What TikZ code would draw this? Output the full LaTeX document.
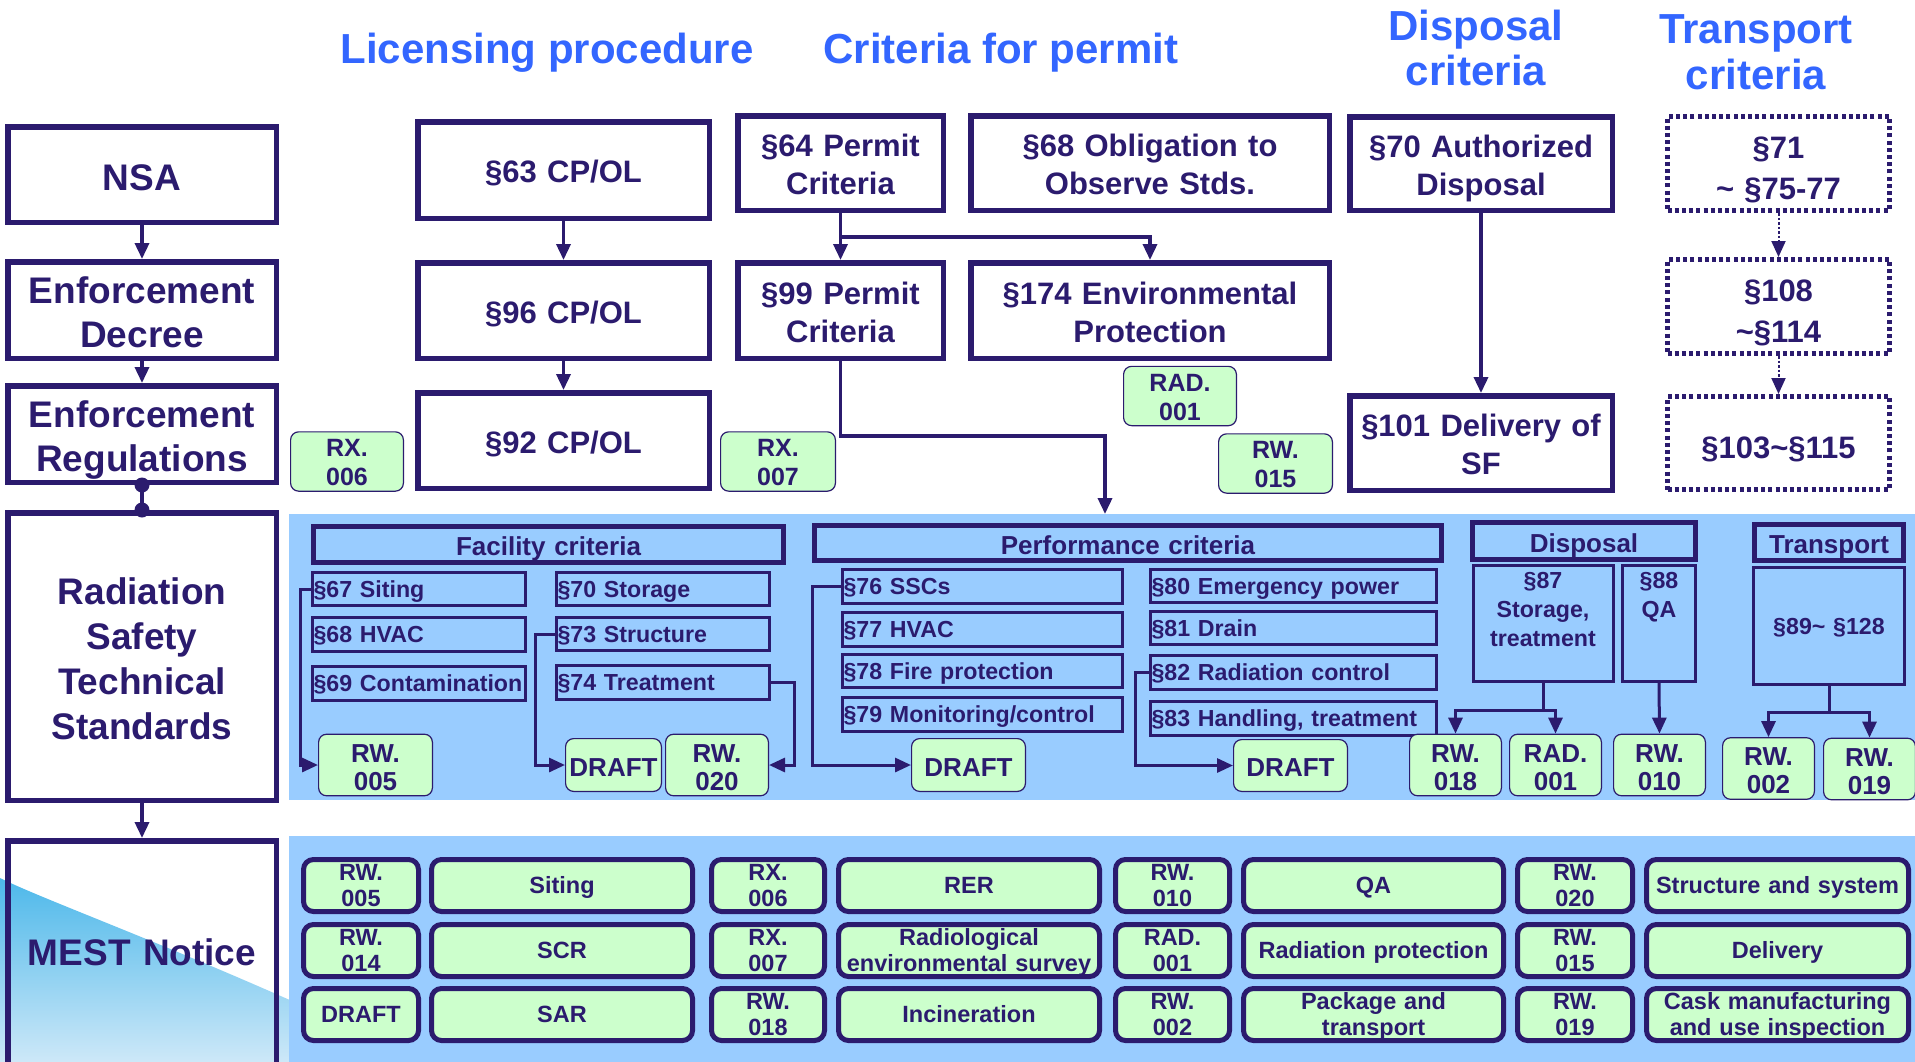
\documentclass[tikz,border=0pt]{standalone}
\usepackage{fontspec}
\setmainfont{Liberation Sans}
\usetikzlibrary{arrows.meta}
\definecolor{navy}{HTML}{2B1B6E}
\definecolor{ttl}{HTML}{3366FF}
\definecolor{pnl}{HTML}{99CCFF}
\definecolor{tag}{HTML}{CCFFCC}
\definecolor{wedgeT}{HTML}{4DB8EA}
\definecolor{wedgeB}{HTML}{CDE8F8}
% font sizes (1pt = 1 pixel of the drawing); fixed line pitch
\newcommand\fsz[2]{\bfseries\fontsize{#1}{#2}\selectfont\lineskiplimit=-1000pt\relax}
\newcommand\fTitle{\fsz{42}{45}}
\newcommand\fLeft{\fsz{37}{44}}
\newcommand\fStd{\fsz{37}{45}}
\newcommand\fBox{\fsz{31}{38}}
\newcommand\fDot{\fsz{31}{41}}
\newcommand\fHead{\fsz{26}{30}}
\newcommand\fItem{\fsz{23.2}{29}}
\newcommand\fTagA{\fsz{25}{29}}
\newcommand\fTagB{\fsz{26}{28}}
\newcommand\fCell{\fsz{23.5}{25.5}}
% line strut with the ascent/descent of the face, so text sits centred on its capitals
\newcommand\pstrut{\rule[-0.212em]{0pt}{1.117em}}
% box from outer corners: #1 line width, #2 name, #3-#6 x1 y1 x2 y2, #7 style, #8 text
\newcommand\bx[8]{%
  \pgfmathsetmacro\bxw{#5-#3-#1}\pgfmathsetmacro\bxh{#6-#4-#1}%
  \pgfmathsetmacro\bxx{(#3+#5)/2}\pgfmathsetmacro\bxy{(#4+#6)/2}%
  \node[#7, line width=#1pt, text width=\bxw pt, minimum height=\bxh pt] (#2) at (\bxx,\bxy) {#8};}
% left-aligned item box: #1 name, #2-#5 x1 y1 x2 y2, #6 text
\newcommand\itm[6]{%
  \pgfmathsetmacro\bxw{#4-#2-5}\pgfmathsetmacro\bxh{#5-#3-3}%
  \pgfmathsetmacro\bxx{(#2+#4)/2}\pgfmathsetmacro\bxy{(#3+#5)/2}%
  \node[item, text width=\bxw pt, minimum height=\bxh pt] (#1) at (\bxx,\bxy) {#6};}
\begin{document}
\begin{tikzpicture}[x=1pt,y=-1pt,
  every node/.style={text=navy, inner sep=0pt,
    execute at begin node=\pstrut, execute at end node=\pstrut},
  % taller first-line strut: sets the text a little lower in its box
  lower/.style={execute at begin node={\rule{0pt}{#1em}}},
  frame/.style={draw=navy, align=center, font=\fBox, lower=1.05},
  lframe/.style={draw=navy, align=center, font=\fLeft, lower=1.05},
  dotbox/.style={draw=navy, align=center, font=\fDot, lower=1.18,
    dash pattern=on 4pt off 3.2pt},
  tagA/.style={draw=navy, fill=tag, rounded corners=8pt, align=center, font=\fTagA, lower=1.0},
  tagB/.style={draw=navy, fill=tag, rounded corners=8pt, align=center, font=\fTagB, lower=1.08},
  cell/.style={draw=navy, fill=tag, rounded corners=10pt, align=center, font=\fCell},
  head/.style={draw=navy, fill=pnl, align=center, font=\fHead, lower=1.08},
  sub/.style={draw=navy, fill=pnl, align=center, font=\fItem},
  item/.style={draw=navy, fill=pnl, line width=3pt, inner xsep=1pt, align=left, font=\fItem},
  title/.style={text=ttl, font=\fTitle, anchor=base},
  tip/.style={-{Triangle[length=16pt,width=14pt]}},
  conn/.style={draw=navy, line width=3.5pt, tip},
  pconn/.style={draw=navy, line width=3pt, tip},
  dconn/.style={draw=navy, line width=2pt, dash pattern=on 2.5pt off 2pt, tip}]

\path[use as bounding box] (0,0) rectangle (1915,1061);
\clip (0,0) rectangle (1915,1061);
\fill[white] (0,0) rectangle (1915,1061);

% column headings
\node[title] (hLic) at (547,63) {Licensing procedure};
\node[title] (hCrit) at (1001,63) {Criteria for permit};
\node[title] (hDisA) at (1476,40) {Disposal};
\node[title] (hDisB) at (1476,85) {criteria};
\node[title] (hTraA) at (1756,43) {Transport};
\node[title] (hTraB) at (1756,89) {criteria};

% shaded wedge behind the notice box
\shade[top color=wedgeT, bottom color=wedgeB]
  (0,878) .. controls (40,898) and (150,938) .. (292,1001) -- (292,1062) -- (0,1062) -- cycle;

% left column: legal hierarchy
\bx{5.5}{nsa}{5}{124}{279}{225}{lframe}{NSA}
\bx{5.5}{decree}{5}{259}{279}{361}{lframe}{Enforcement\\Decree}
\bx{5.5}{regs}{5}{383}{279}{485}{lframe}{Enforcement\\Regulations}
\bx{5.5}{rsts}{5}{510}{279}{803}{lframe, font=\fStd}{Radiation\\Safety\\Technical\\Standards}
\bx{5.5}{mest}{5}{838}{279}{1080}{lframe}{}
\node[font=\fLeft, text width=268pt, align=center] (mestT) at (142,953) {MEST Notice};

\draw[conn] (nsa.south) -- (decree.north);
\draw[conn] (decree.south) -- (regs.north);
\draw[navy, line width=4pt] (regs.south) -- (rsts.north);
\fill[navy] (regs.south) circle (7.5);
\fill[navy] (rsts.north) circle (7.5);
\draw[conn] (rsts.south) -- (mest.north);

% licensing procedure
\bx{5.5}{p63}{415}{119}{712}{221}{frame}{§63 CP/OL}
\bx{5.5}{p96}{415}{260}{712}{361}{frame}{§96 CP/OL}
\bx{5.5}{p92}{415}{390}{712}{491}{frame}{§92 CP/OL}
\draw[conn] (p63.south) -- (p96.north);
\draw[conn] (p96.south) -- (p92.north);
\bx{1.2}{rx006}{290}{434}{404}{489}{tagA}{RX.\\006}
\bx{1.2}{rx007}{720}{434}{836}{489}{tagA}{RX.\\007}

% criteria for permit
\bx{5.5}{p64}{735}{113}{946}{213}{frame}{§64 Permit\\Criteria}
\bx{5.5}{p99}{735}{260}{946}{361}{frame}{§99 Permit\\Criteria}
\bx{5.5}{p68}{968}{113}{1332}{213}{frame}{§68 Obligation to\\Observe Stds.}
\bx{5.5}{p174}{968}{260}{1332}{361}{frame}{§174 Environmental\\Protection}
\bx{1.2}{rad001t}{1123}{369}{1237}{423}{tagA}{RAD.\\001}
\bx{1.2}{rw015t}{1218}{437}{1333}{490}{tagA}{RW.\\015}
\draw[conn] (p64.south) -- (p99.north);
\draw[conn] (p64.south) ++(0,24) -| (p174.north);
\coordinate (pin) at (1105,514);
\draw[conn] (p99.south) -- ++(0,75) -| (pin);

% disposal criteria
\bx{5.5}{p70}{1347}{114}{1615}{213}{frame}{§70 Authorized\\Disposal}
\bx{5.5}{p101}{1347}{393}{1615}{493}{frame}{§101 Delivery of\\SF}
\draw[conn] (p70.south) -- (p101.north);

% transport criteria
\bx{5}{t1}{1665}{114}{1892}{213}{dotbox}{§71\\\textasciitilde{} §75-77}
\bx{5}{t2}{1665}{257}{1892}{356}{dotbox}{§108\\\textasciitilde§114}
\bx{5}{t3}{1665}{394}{1892}{492}{dotbox}{§103\textasciitilde§115}
\draw[dconn] (t1.south) -- (t2.north);
\draw[dconn] (t2.south) -- (t3.north);

% technical standards panel
\fill[pnl] (289,514) rectangle (1916,800);
\bx{5}{hfac}{311}{524}{786}{565}{head}{Facility criteria}
\bx{5}{hperf}{812}{523}{1444}{563}{head}{Performance criteria}
\bx{5}{hdis}{1470}{520}{1698}{562}{head}{Disposal}
\bx{5}{htra}{1752}{522}{1906}{563}{head}{Transport}

\itm{s67}{311}{571}{527}{607}{§67 Siting}
\itm{s68}{311}{616}{527}{653}{§68 HVAC}
\itm{s69}{311}{665}{527}{702}{§69 Contamination}
\itm{s70}{555}{571}{771}{607}{§70 Storage}
\itm{s73}{555}{616}{771}{652}{§73 Structure}
\itm{s74}{555}{664}{771}{701}{§74 Treatment}
\itm{s76}{841}{568}{1124}{605}{§76 SSCs}
\itm{s77}{841}{611}{1124}{648}{§77 HVAC}
\itm{s78}{841}{653}{1124}{689}{§78 Fire protection}
\itm{s79}{841}{696}{1124}{733}{§79 Monitoring/control}
\itm{s80}{1149}{568}{1438}{604}{§80 Emergency power}
\itm{s81}{1149}{610}{1438}{646}{§81 Drain}
\itm{s82}{1149}{654}{1438}{691}{§82 Radiation control}
\itm{s83}{1149}{700}{1438}{737}{§83 Handling, treatment}

\bx{3}{s87}{1472}{564}{1615}{683}{sub}{}
\node[font=\fItem, text width=136pt, align=center] (s87T) at (1543,609) {§87\\Storage,\\treatment};
\bx{3}{s88}{1621}{564}{1697}{683}{sub}{}
\node[font=\fItem, text width=70pt, align=center] (s88T) at (1659,595) {§88\\QA};
\bx{3}{s89}{1752}{566}{1906}{686}{sub}{§89\textasciitilde{} §128}

\bx{1.2}{rw005}{318}{738}{433}{792}{tagB}{RW.\\005}
\bx{1.2}{draftA}{565}{738}{662}{792}{tagB}{DRAFT}
\bx{1.2}{rw020}{665}{738}{769}{792}{tagB}{RW.\\020}
\bx{1.2}{draftB}{911}{738}{1026}{792}{tagB}{DRAFT}
\bx{1.2}{draftC}{1233}{739}{1348}{792}{tagB}{DRAFT}
\bx{1.2}{rw018}{1409}{738}{1502}{792}{tagB}{RW.\\018}
\bx{1.2}{rad001b}{1509}{738}{1602}{792}{tagB}{RAD.\\001}
\bx{1.2}{rw010}{1613}{738}{1706}{792}{tagB}{RW.\\010}
\bx{1.2}{rw002}{1722}{742}{1815}{795}{tagB}{RW.\\002}
\bx{1.2}{rw019}{1823}{742}{1916}{796}{tagB}{RW.\\019}

\draw[pconn] (s67.west) -- ++(-11,0) |- (rw005.west);
\draw[pconn] (s73.west) -- ++(-20,0) |- (draftA.west);
\draw[pconn] (s74.east) -- ++(23,0) |- (rw020.east);
\draw[pconn] (s76.west) -- ++(-29,0) |- (draftB.west);
\draw[pconn] (s82.west) -- ++(-14,0) |- (draftC.west);
\draw[navy, line width=3pt] (s87.south) -- ++(0,27) coordinate (j87);
\draw[pconn] (j87) -| (rw018.north);
\draw[pconn] (j87) -| (rad001b.north);
\draw[pconn] (s88.south) -- (rw010.north);
\draw[navy, line width=3pt] (s89.south) -- ++(0,26) coordinate (j89);
\draw[pconn] (j89) -| (rw002.north);
\draw[pconn] (j89) -| (rw019.north);

% notice panel
\fill[pnl] (289,836) rectangle (1916,1062);
\foreach \nm/\xa/\xb/\ya/\yb/\txt in {
  a1/301/421/857/914/{RW.\\005}, b1/429/695/857/914/{Siting},
  c1/709/827/857/914/{RX.\\006}, d1/836/1102/857/914/{RER},
  e1/1113/1232/857/914/{RW.\\010}, f1/1241/1506/857/914/{QA},
  g1/1515/1635/857/914/{RW.\\020}, h1/1644/1911/857/914/{Structure and system},
  a2/301/421/922/979/{RW.\\014}, b2/429/695/922/979/{SCR},
  c2/709/827/922/979/{RX.\\007}, d2/836/1102/922/979/{Radiological\\environmental survey},
  e2/1113/1232/922/979/{RAD.\\001}, f2/1241/1506/922/979/{Radiation protection},
  g2/1515/1635/922/979/{RW.\\015}, h2/1644/1911/922/979/{Delivery},
  a3/301/421/986/1043/{DRAFT}, b3/429/695/986/1043/{SAR},
  c3/709/827/986/1043/{RW.\\018}, d3/836/1102/986/1043/{Incineration},
  e3/1113/1232/986/1043/{RW.\\002}, f3/1241/1506/986/1043/{Package and\\transport},
  g3/1515/1635/986/1043/{RW.\\019}, h3/1644/1911/986/1043/{Cask manufacturing\\and use inspection}}
  {\bx{5}{n\nm}{\xa}{\ya}{\xb}{\yb}{cell}{\txt}}
\end{tikzpicture}
\end{document}
